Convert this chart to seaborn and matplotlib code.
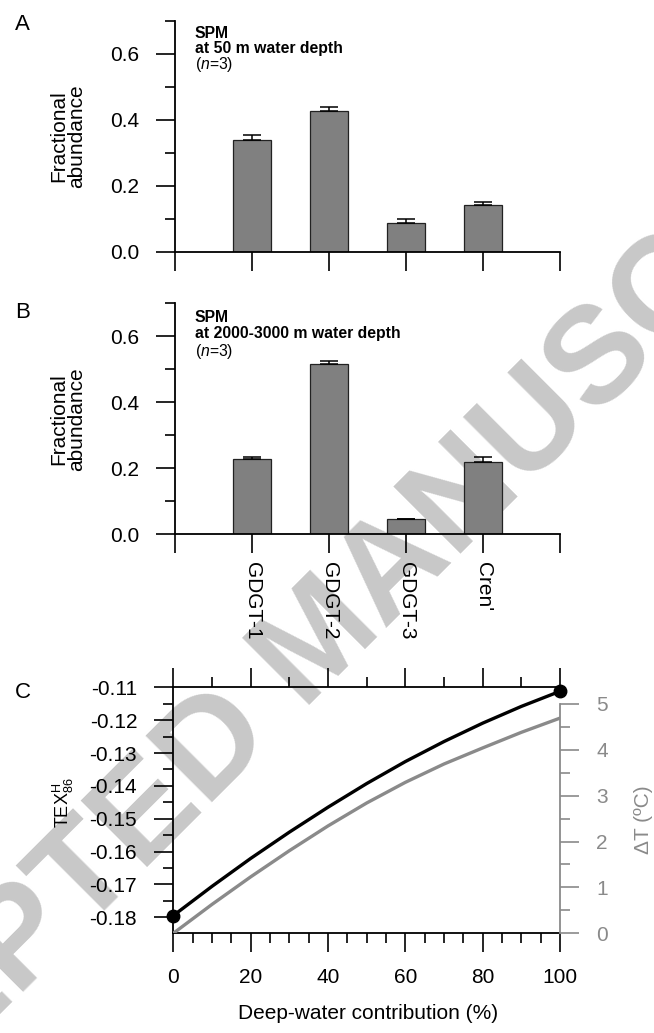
import matplotlib
matplotlib.use("Agg")
import matplotlib.pyplot as plt
from matplotlib.ticker import MultipleLocator, FormatStrFormatter
import seaborn as sns
import pandas as pd
import numpy as np

# bar data (fractional abundance, mean + upper error)
compounds = ["GDGT-1", "GDGT-2", "GDGT-3", "Cren'"]
shallow_mean = [0.338, 0.427, 0.088, 0.143]
shallow_err = [0.016, 0.013, 0.013, 0.009]
deep_mean = [0.228, 0.515, 0.045, 0.220]
deep_err = [0.007, 0.009, 0.001, 0.013]

# mixing curves
deep_contrib = [0, 10, 20, 30, 40, 50, 60, 70, 80, 90, 100]
tex_h86 = [-0.1795, -0.1706, -0.1621, -0.1541, -0.1465, -0.1393,
           -0.1326, -0.1265, -0.1209, -0.1158, -0.1112]
delta_t = [0.0, 0.63, 1.23, 1.80, 2.34, 2.84, 3.29, 3.69, 4.04, 4.38, 4.69]

GREY_BAR = "#808080"
GREY_AX = "#8a8a8a"
FS = 15

sns.set_theme(style="ticks", rc={"text.color": "black", "axes.labelcolor": "black",
                                 "xtick.color": "black", "ytick.color": "black",
                                 "axes.edgecolor": "black"})
plt.rcParams["font.family"] = ["Liberation Sans", "DejaVu Sans"]
plt.rcParams["axes.unicode_minus"] = False
plt.rcParams["mathtext.fontset"] = "custom"
plt.rcParams["mathtext.rm"] = "Liberation Sans"
plt.rcParams["mathtext.it"] = "Liberation Sans:italic"
plt.rcParams["axes.linewidth"] = 1.3

fig = plt.figure(figsize=(6.54, 10.33), dpi=100)

# watermark behind everything
fig.text(0.492, 0.378, "ACCEPTED MANUSCRIPT", fontsize=99, fontweight="bold",
         color="#c8c8c8", rotation=45, rotation_mode="anchor",
         ha="center", va="center", zorder=-1)


def bar_panel(rect, means, errs, title, ann_y, show_labels):
    ax = fig.add_axes(rect)
    ax.set_facecolor("none")
    df = pd.DataFrame({"compound": compounds, "value": means})
    sns.barplot(data=df, x="compound", y="value", color=GREY_BAR, saturation=1,
                width=0.5, edgecolor="#222222", linewidth=0.9, ax=ax)
    ax.errorbar(np.arange(len(compounds)), means,
                yerr=[np.zeros(len(errs)), errs], fmt="none", ecolor="black",
                elinewidth=1.1, capsize=6.5, capthick=1.1, zorder=3)
    ax.set_xlim(-1, 4)
    ax.set_ylim(0, 0.70)
    ax.set_xticks(range(-1, 5))
    if show_labels:
        ax.set_xticklabels([""] + compounds + [""], rotation=270, fontsize=FS)
    else:
        ax.set_xticklabels([])
    ax.yaxis.set_major_locator(MultipleLocator(0.2))
    ax.yaxis.set_minor_locator(MultipleLocator(0.1))
    ax.yaxis.set_major_formatter(FormatStrFormatter("%.1f"))
    ax.tick_params(axis="both", which="major", direction="out", length=14,
                   width=1.2, labelsize=FS, pad=12, color="black")
    ax.tick_params(axis="x", which="major", pad=6)
    ax.tick_params(axis="y", which="minor", direction="out", length=7, width=1.2)
    for s in ["top", "right"]:
        ax.spines[s].set_visible(False)
    ax.set_xlabel("")
    ax.set_ylabel("Fractional\nabundance", fontsize=FS, linespacing=0.95, va="center")
    ax.yaxis.set_label_coords(-0.278, 0.5)
    ax.text(0.051, ann_y[0], "SPM", transform=ax.transAxes, fontsize=11.3,
            fontweight="bold", va="baseline")
    ax.text(0.051, ann_y[1], title, transform=ax.transAxes, fontsize=11.3,
            fontweight="bold", va="baseline")
    ax.text(0.051, ann_y[2], r"($\mathit{n}$=$\mathit{3}$)", transform=ax.transAxes,
            fontsize=11.3, va="baseline")
    return ax


bar_panel([0.2676, 0.7561, 0.5887, 0.2236], shallow_mean, shallow_err,
          "at 50 m water depth", (0.928, 0.860, 0.792), False)
bar_panel([0.2676, 0.4828, 0.5887, 0.2236], deep_mean, deep_err,
          "at 2000-3000 m water depth", (0.920, 0.851, 0.772), True)

# panel C
axc = fig.add_axes([0.265, 0.0965, 0.5913, 0.2381])
axc.set_facecolor("none")
axt = axc.twinx()
axt.set_facecolor("none")

sns.lineplot(x=deep_contrib, y=delta_t, color=GREY_AX, linewidth=2.4, ax=axt)
sns.lineplot(x=deep_contrib, y=tex_h86, color="black", linewidth=2.4, ax=axc)
axc.plot([deep_contrib[0], deep_contrib[-1]], [tex_h86[0], tex_h86[-1]], "o",
         color="black", ms=9, clip_on=False, zorder=5)

axc.set_xlim(0, 100)
axc.set_ylim(-0.1849, -0.11)
axt.set_ylim(0, 5.36)

axc.xaxis.set_major_locator(MultipleLocator(20))
axc.xaxis.set_minor_locator(MultipleLocator(5))
axc.yaxis.set_major_locator(MultipleLocator(0.01))
axc.yaxis.set_minor_locator(MultipleLocator(0.005))
axc.yaxis.set_major_formatter(FormatStrFormatter("%.2f"))
axc.tick_params(which="major", direction="out", length=14, width=1.2,
                labelsize=FS, pad=12)
axc.tick_params(axis="x", which="major", pad=11)
axc.tick_params(which="minor", direction="out", length=7, width=1.2)
axc.spines["top"].set_visible(False)
axc.spines["right"].set_visible(False)

top = axc.secondary_xaxis("top")
top.xaxis.set_major_locator(MultipleLocator(20))
top.xaxis.set_minor_locator(MultipleLocator(10))
top.tick_params(which="major", direction="out", length=14, width=1.2, labeltop=False)
top.tick_params(which="minor", direction="out", length=7, width=1.2)
top.spines["top"].set_linewidth(1.3)

for s in ["top", "left", "bottom"]:
    axt.spines[s].set_visible(False)
axt.spines["right"].set_color(GREY_AX)
axt.spines["right"].set_bounds(0, 5)
axt.yaxis.set_major_locator(MultipleLocator(1))
axt.set_yticks(np.arange(0, 5.5, 0.5)[1::2], minor=True)
axt.tick_params(which="major", direction="out", length=14, width=1.2,
                colors=GREY_AX, labelsize=FS, pad=12)
axt.tick_params(which="minor", direction="out", length=7, width=1.2, colors=GREY_AX)
axt.grid(False)
axc.grid(False)

axc.set_xlabel("Deep-water contribution (%)", fontsize=FS, va="center")
axc.xaxis.set_label_coords(0.503, -0.328)
axc.set_ylabel(r"TEX$_{\mathregular{86}}^{\mathregular{H}}$", fontsize=13, va="center")
axc.yaxis.set_label_coords(-0.283, 0.53)
axt.set_ylabel("ΔT (ºC)", fontsize=FS, color=GREY_AX, va="center")
axt.yaxis.set_label_coords(1.215, 0.46)

for lab, y in [("A", 0.9758), ("B", 0.697), ("C", 0.330)]:
    fig.text(0.035, y, lab, fontsize=16, ha="center", va="center")

fig.savefig("out.png", dpi=100)
